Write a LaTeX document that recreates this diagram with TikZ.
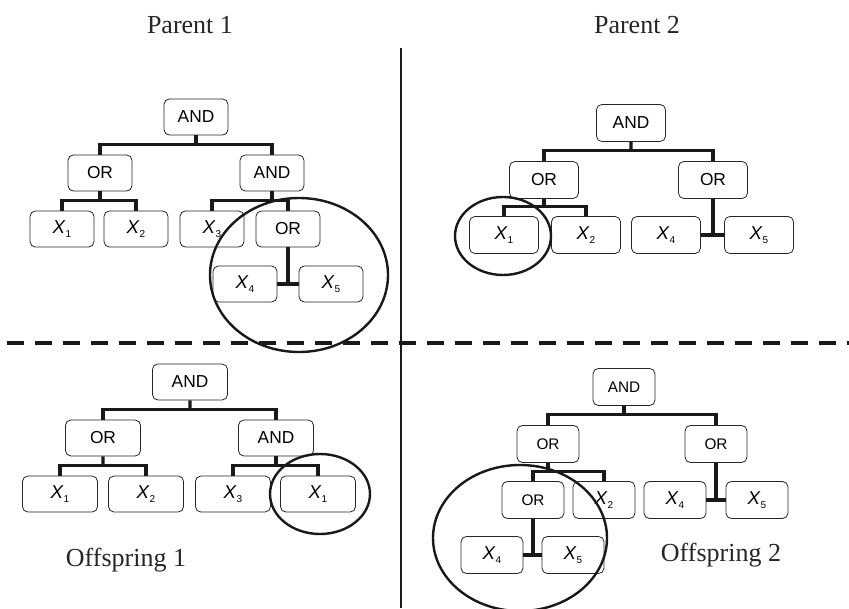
\documentclass[tikz,border=0pt]{standalone}
\usepackage{fontspec}
\setmainfont{Liberation Serif}
\setsansfont{Liberation Sans}
\usetikzlibrary{calc}

% variable X_i with a small upright index
\newcommand\xv[1]{{\fontsize{14}{14}\selectfont\textit{X}}\raisebox{-0.5ex}{\fontsize{7.5}{7.5}\selectfont #1}}

\tikzset{
  gate/.style={draw=black!85, line width=0.6pt, rounded corners=4pt,
    inner sep=0pt, text=black, font=\sffamily\fontsize{13}{13}\selectfont},
  boxA/.style={gate, minimum width=48pt, minimum height=27pt},
  boxB/.style={gate, minimum width=51.75pt, minimum height=27.75pt},
  boxC/.style={gate, minimum width=56.25pt, minimum height=27pt},
  boxD/.style={gate, minimum width=46.5pt, minimum height=27.75pt,
    font=\sffamily\fontsize{11.5}{11.5}\selectfont},
  link/.style={line width=2.3pt, black!90},
  ring/.style={line width=1.8pt, black!90},
  title/.style={font=\fontsize{19.5}{22}\selectfont, text=black!85}
}

% parent with two children hanging from one bar
\newcommand\fork[3]{%
  \coordinate (#1-j) at ($(#1.south)!0.45!(#1.south |- #2.north)$);
  \draw[link] (#1.south) -- (#1-j);
  \draw[link] (#2.north) |- (#1-j) -| (#3.north);}
% parent whose two children sit side by side below it
\newcommand\side[3]{%
  \draw[link] (#2.east) -- (#3.west);
  \draw[link] (#1.south) -- (#1.south |- #2.east);}

\begin{document}
\begin{tikzpicture}[x=0.75pt, y=-0.75pt]
\useasboundingbox (0,0) rectangle (849,609);

% titles
\node[title] (t1) at (190,25) {Parent 1};
\node[title] (t2) at (637,25) {Parent 2};

% dividers
\coordinate (vtop) at (401,48);
\coordinate (vbot) at (401,608);
\draw[line width=1.5pt, black!90] (vtop) -- (vbot);
\coordinate (hl) at (7,343);
\coordinate (hr) at (849,343);
\draw[line width=3pt, black!90, dash pattern=on 12.75pt off 8.25pt] (hl) -- (hr);

% ---- Parent 1
\node[boxA] (a) at (196,117) {AND};
\node[boxA] (b) at (100,173) {OR};
\node[boxA] (c) at (272,173) {AND};
\node[boxA] (d) at (62,229) {\xv1};
\node[boxA] (e) at (136,229) {\xv2};
\node[boxA] (f) at (212,229) {\xv3};
\node[boxA] (g) at (288,229) {OR};
\node[boxA] (h) at (245,284) {\xv4};
\node[boxA] (i) at (331,284) {\xv5};
\fork{a}{b}{c}
\fork{b}{d}{e}
\fork{c}{f}{g}
\side{g}{h}{i}
\draw[ring] (299,275) ellipse [x radius=89, y radius=77];

% ---- Parent 2
\node[boxB] (pa) at (631,123) {AND};
\node[boxB] (pb) at (544,180) {OR};
\node[boxB] (pc) at (713,180) {OR};
\node[boxB] (pd) at (504,235) {\xv1};
\node[boxB] (pe) at (586,235) {\xv2};
\node[boxB] (pf) at (666,235) {\xv4};
\node[boxB] (pg) at (759,235) {\xv5};
\fork{pa}{pb}{pc}
\fork{pb}{pd}{pe}
\side{pc}{pf}{pg}
\draw[ring] (503,236) ellipse [x radius=48, y radius=39];

% ---- Offspring 1
\node[boxC] (qa) at (190,382) {AND};
\node[boxC] (qb) at (103,438) {OR};
\node[boxC] (qc) at (276,438) {AND};
\node[boxC] (qd) at (60,494) {\xv1};
\node[boxC] (qe) at (146,494) {\xv2};
\node[boxC] (qf) at (233,494) {\xv3};
\node[boxC] (qg) at (318,494) {\xv1};
\fork{qa}{qb}{qc}
\fork{qb}{qd}{qe}
\fork{qc}{qf}{qg}
\draw[ring] (320,494) ellipse [x radius=50, y radius=40];
\node[title] (t3) at (126,560) {Offspring 1};

% ---- Offspring 2
\node[boxD] (ra) at (624,387) {AND};
\node[boxD] (rb) at (548,444) {OR};
\node[boxD] (rc) at (716,444) {OR};
\node[boxD] (rd) at (533,500) {OR};
\node[boxD] (re) at (604,500) {\xv2};
\node[boxD] (rf) at (675,500) {\xv4};
\node[boxD] (rg) at (757,500) {\xv5};
\node[boxD] (rh) at (492,555) {\xv4};
\node[boxD] (ri) at (573,555) {\xv5};
\fork{ra}{rb}{rc}
\fork{rb}{rd}{re}
\side{rc}{rf}{rg}
\side{rd}{rh}{ri}
\draw[ring] (520,538) ellipse [x radius=87, y radius=73];
\node[title] (t4) at (721,555) {Offspring 2};
\end{tikzpicture}
\end{document}
